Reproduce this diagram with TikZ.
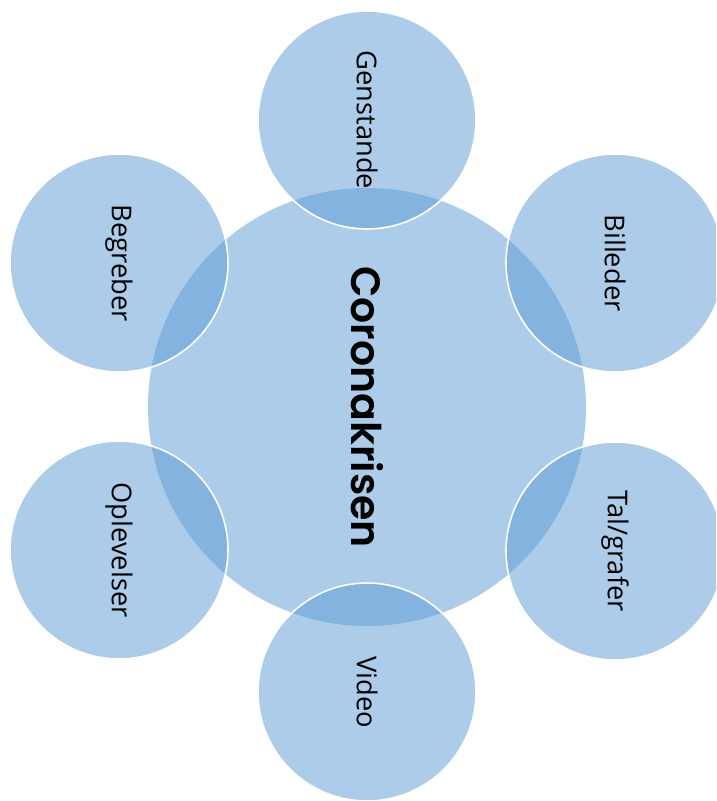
\documentclass[tikz,border=0pt]{standalone}
\usepackage{fontspec}
\newfontfamily\labfont{Open Sans}
\newfontfamily\titlefont{Poppins SemiBold}
\definecolor{accent}{HTML}{5B9BD5}
\tikzset{
  bigcircle/.style={circle, inner sep=0pt, minimum size=438pt, fill=accent, fill opacity=0.5, text opacity=1, rotate=-90, font=\titlefont\fontsize{41}{48}\selectfont},
  satcircle/.style={circle, inner sep=0pt, minimum size=218pt, fill=accent, fill opacity=0.5, text opacity=1, draw=white, draw opacity=1, line width=1.6pt, rotate=-90, font=\labfont\fontsize{27.3}{33}\selectfont}
}
\begin{document}
\begin{tikzpicture}[x=1pt,y=-1pt]
\useasboundingbox (0,0) rectangle (716,801);
\fill[white] (0,0) rectangle (716,801);
\clip (0,0) rectangle (716,801);
\node[bigcircle] (c) at (367,407) {Coronakrisen};
\node[satcircle] (gen) at (367,120) {Genstande};
\node[satcircle] (bil) at (615,263) {Billeder};
\node[satcircle] (tal) at (615,551) {Tal/grafer};
\node[satcircle] (vid) at (367,692) {Video};
\node[satcircle] (opl) at (119,550) {Oplevelser};
\node[satcircle] (beg) at (119,263) {Begreber};
\end{tikzpicture}
\end{document}
